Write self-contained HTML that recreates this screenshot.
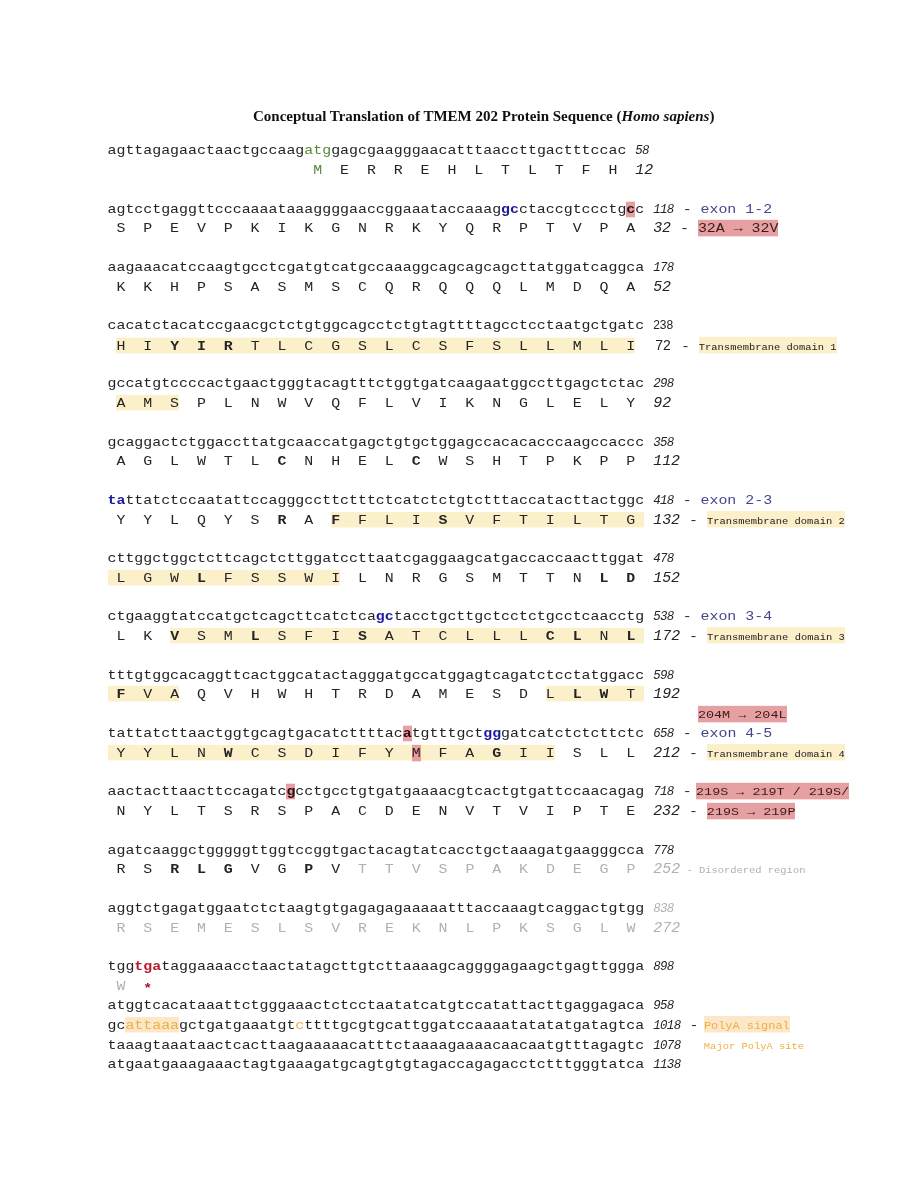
<!DOCTYPE html>
<html><head><meta charset="utf-8"><title>TMEM202</title><style>
html,body{margin:0;padding:0;background:#fff;width:913px;height:1182px;overflow:hidden}
body{position:relative;filter:blur(0.35px)}
.m{position:absolute;left:107.5px;font-family:"Liberation Mono",monospace;font-size:14.92px;line-height:0;white-space:pre;color:#242424;transform:scaleY(0.87);transform-origin:0 3.970px}
.dk{}
.t{position:absolute;left:0;width:913px;font-family:"Liberation Serif",serif;font-weight:bold;font-size:15px;line-height:0;white-space:pre;color:#111}
.n{font-style:italic;font-size:12.4px;letter-spacing:-0.6px;margin-right:0px;display:inline-block;transform:scaleY(1.1494);transform-origin:0 3.300px}
.ns{font-family:"Liberation Sans",sans-serif;font-size:12px;display:inline-block;transform:scaleY(1.1494);transform-origin:0 4.160px}
.pns{font-family:"Liberation Sans",sans-serif;font-size:14px;margin-left:2px;margin-right:1.2px;display:inline-block;transform:scaleY(1.1494);transform-origin:0 4.854px}
.pn{font-style:italic;display:inline-block;transform:scaleY(1.1494);transform-origin:0 3.970px}
.g{color:#b0b0b0}
.b{font-weight:bold}
.hl{background:#fcf0ca;padding-top:1.95px;padding-bottom:0.23px}
.pk{background:#e6a0a2;color:#3a1a1c;padding-top:1.72px;padding-bottom:0.69px}
.pkb{background:#e6a0a2;font-weight:bold;color:#2a0a12;padding-top:1.49px;padding-bottom:1.27px}
.pk9{background:#e6a0a2;color:#3a1a1c;font-size:13.43px;padding-top:2.96px;padding-bottom:1.37px}
.gr{color:#5a8834}
.bl{color:#1a1aa0;font-weight:bold}
.ex{color:#44448e}
.tm{background:#fcf0ca;color:#1a1a1a;font-size:10.44px;padding-top:6.37px;padding-bottom:0.89px}
.dis{color:#b0b0b0;font-size:10.44px}
.rd{color:#b81c2c;font-weight:bold}
.ast{color:#a8142c;font-weight:bold;position:relative;top:1.5px}
.or{color:#eeb040;background:#fde7c9;padding-top:1.72px;padding-bottom:0.00px}
.orc{color:#eeb040}
.pas{color:#eeb040;background:#fde7c9;font-size:11.93px;padding-top:4.55px;padding-bottom:0.00px;margin-left:-3.5px}
.maj{margin-left:-3.5px;color:#eeb040;font-size:10.44px}
</style></head>
<body>
<div class="t" style="top:116.03px;left:253px;width:auto">Conceptual Translation of TMEM 202 Protein Sequence (<i>Homo sapiens</i>)</div>
<div class="m" style="top:150.33px">agttagagaactaactgccaag<span class="gr">atg</span>gagcgaagggaacatttaaccttgactttccac <span class="n">58</span></div>
<div class="m" style="top:170.03px">                       <span class="gr">M</span>  E  R  R  E  H  L  T  L  T  F  H  <span class="pn">12</span></div>
<div class="m" style="top:208.60px">agtcctgaggttcccaaaataaaggggaaccggaaataccaaag<span class="bl">gc</span>ctaccgtccctg<span class="pkb">c</span>c <span class="n">118</span> - <span class="ex">exon 1-2</span></div>
<div class="m" style="top:228.30px"> S  P  E  V  P  K  I  K  G  N  R  K  Y  Q  R  P  T  V  P  A  <span class="pn">32</span> - <span class="pk">32A → 32V</span></div>
<div class="m" style="top:266.87px">aagaaacatccaagtgcctcgatgtcatgccaaaggcagcagcagcttatggatcaggca <span class="n">178</span></div>
<div class="m" style="top:286.57px"> K  K  H  P  S  A  S  M  S  C  Q  R  Q  Q  Q  L  M  D  Q  A  <span class="pn">52</span></div>
<div class="m" style="top:325.14px">cacatctacatccgaacgctctgtggcagcctctgtagttttagcctcctaatgctgatc <span class="ns">238</span></div>
<div class="m" style="top:344.84px"> <span class="hl">H  I  </span><span class="b hl">Y</span><span class="hl">  </span><span class="b hl">I</span><span class="hl">  </span><span class="b hl">R</span><span class="hl">  T  L  C  G  S  L  C  S  F  S  L  L  M  L  I</span>  <span class="pns">72</span> - <span class="tm">Transmembrane domain 1</span></div>
<div class="m" style="top:383.41px">gccatgtccccactgaactgggtacagtttctggtgatcaagaatggccttgagctctac <span class="n">298</span></div>
<div class="m" style="top:403.11px"> <span class="hl">A  M  S</span>  P  L  N  W  V  Q  F  L  V  I  K  N  G  L  E  L  Y  <span class="pn">92</span></div>
<div class="m" style="top:441.68px">gcaggactctggaccttatgcaaccatgagctgtgctggagccacacacccaagccaccc <span class="n">358</span></div>
<div class="m" style="top:461.38px"> A  G  L  W  T  L  <span class="b">C</span>  N  H  E  L  <span class="b">C</span>  W  S  H  T  P  K  P  P  <span class="pn">112</span></div>
<div class="m" style="top:499.95px"><span class="bl">ta</span>ttatctccaatattccagggccttctttctcatctctgtctttaccatacttactggc <span class="n">418</span> - <span class="ex">exon 2-3</span></div>
<div class="m" style="top:519.65px"> Y  Y  L  Q  Y  S  <span class="b">R</span>  A  <span class="b hl">F</span><span class="hl">  F  L  I  </span><span class="b hl">S</span><span class="hl">  V  F  T  I  L  T  G </span> <span class="pn">132</span> - <span class="tm">Transmembrane domain 2</span></div>
<div class="m" style="top:558.22px">cttggctggctcttcagctcttggatccttaatcgaggaagcatgaccaccaacttggat <span class="n">478</span></div>
<div class="m" style="top:577.92px"><span class="hl"> L  G  W  </span><span class="b hl">L</span><span class="hl">  F  S  S  W  I</span>  L  N  R  G  S  M  T  T  N  <span class="b">L</span>  <span class="b">D</span>  <span class="pn">152</span></div>
<div class="m" style="top:616.49px">ctgaaggtatccatgctcagcttcatctca<span class="bl">gc</span>tacctgcttgctcctctgcctcaacctg <span class="n">538</span> - <span class="ex">exon 3-4</span></div>
<div class="m" style="top:636.19px"> L  K  <span class="b hl">V</span><span class="hl">  S  M  </span><span class="b hl">L</span><span class="hl">  S  F  I  </span><span class="b hl">S</span><span class="hl">  A  T  C  L  L  L  </span><span class="b hl">C</span><span class="hl">  </span><span class="b hl">L</span><span class="hl">  N  </span><span class="b hl">L</span><span class="hl"> </span> <span class="pn">172</span> - <span class="tm">Transmembrane domain 3</span></div>
<div class="m" style="top:674.76px">tttgtggcacaggttcactggcatactagggatgccatggagtcagatctcctatggacc <span class="n">598</span></div>
<div class="m" style="top:694.46px"><span class="hl"> </span><span class="b hl">F</span><span class="hl">  V  A</span>  Q  V  H  W  H  T  R  D  A  M  E  S  D  <span class="hl">L  </span><span class="b hl">L</span><span class="hl">  </span><span class="b hl">W</span><span class="hl">  T </span> <span class="pn">192</span></div>
<div class="m" style="top:733.03px">tattatcttaactggtgcagtgacatcttttac<span class="pkb">a</span>tgtttgct<span class="bl">gg</span>gatcatctctcttctc <span class="n">658</span> - <span class="ex">exon 4-5</span></div>
<div class="m" style="top:752.73px"><span class="hl"> Y  Y  L  N  </span><span class="b hl">W</span><span class="hl">  C  S  D  I  F  Y  </span><span class="hl pk">M</span><span class="hl">  F  A  </span><span class="b hl">G</span><span class="hl">  I  I</span>  S  L  L  <span class="pn">212</span> - <span class="tm">Transmembrane domain 4</span></div>
<div class="m" style="top:791.30px">aactacttaacttccagatc<span class="pkb">g</span>cctgcctgtgatgaaaacgtcactgtgattccaacagag <span class="n">718</span> - <span class="pk9" style="margin-left:-4.5px">219S → 219T / 219S/</span></div>
<div class="m" style="top:811.00px"> N  Y  L  T  S  R  S  P  A  C  D  E  N  V  T  V  I  P  T  E  <span class="pn">232</span> - <span class="pk9">219S → 219P</span></div>
<div class="m" style="top:849.57px">agatcaaggctgggggttggtccggtgactacagtatcacctgctaaagatgaagggcca <span class="n">778</span></div>
<div class="m" style="top:869.27px"> R  S  <span class="b">R</span>  <span class="b">L</span>  <span class="b">G</span>  V  G  <span class="b">P</span>  V  <span class="g">T</span>  <span class="g">T</span>  <span class="g">V</span>  <span class="g">S</span>  <span class="g">P</span>  <span class="g">A</span>  <span class="g">K</span>  <span class="g">D</span>  <span class="g">E</span>  <span class="g">G</span>  <span class="g">P</span>  <span class="pn g">252</span><span class="dis"> - Disordered region</span></div>
<div class="m dk" style="top:907.84px">aggtctgagatggaatctctaagtgtgagagagaaaaatttaccaaagtcaggactgtgg <span class="n g">838</span></div>
<div class="m" style="top:927.54px"> <span class="g">R</span>  <span class="g">S</span>  <span class="g">E</span>  <span class="g">M</span>  <span class="g">E</span>  <span class="g">S</span>  <span class="g">L</span>  <span class="g">S</span>  <span class="g">V</span>  <span class="g">R</span>  <span class="g">E</span>  <span class="g">K</span>  <span class="g">N</span>  <span class="g">L</span>  <span class="g">P</span>  <span class="g">K</span>  <span class="g">S</span>  <span class="g">G</span>  <span class="g">L</span>  <span class="g">W</span>  <span class="pn g">272</span></div>
<div class="m" style="top:966.11px">tgg<span class="rd">tga</span>taggaaaacctaactatagcttgtcttaaaagcaggggagaagctgagttggga <span class="n">898</span></div>
<div class="m" style="top:985.81px"> <span class="g">W</span>  <span class="ast g">*</span> </div>
<div class="m" style="top:713.53px">                                                                  <span class="pk9">204M → 204L</span></div>
<div class="m" style="top:1005.43px">atggtcacataaattctgggaaactctcctaatatcatgtccatattacttgaggagaca <span class="n">958</span></div>
<div class="m" style="top:1025.23px">gc<span class="or">attaaa</span>gctgatgaaatgt<span class="orc">c</span>ttttgcgtgcattggatccaaaatatatatgatagtca <span class="n">1018</span> - <span class="pas">PolyA signal</span></div>
<div class="m" style="top:1044.53px">taaagtaaataactcacttaagaaaaacatttctaaaagaaaacaacaatgtttagagtc <span class="n">1078</span>   <span class="maj">Major PolyA site</span></div>
<div class="m" style="top:1064.33px">atgaatgaaagaaactagtgaaagatgcagtgtgtagaccagagacctctttgggtatca <span class="n">1138</span></div>
</body></html>
